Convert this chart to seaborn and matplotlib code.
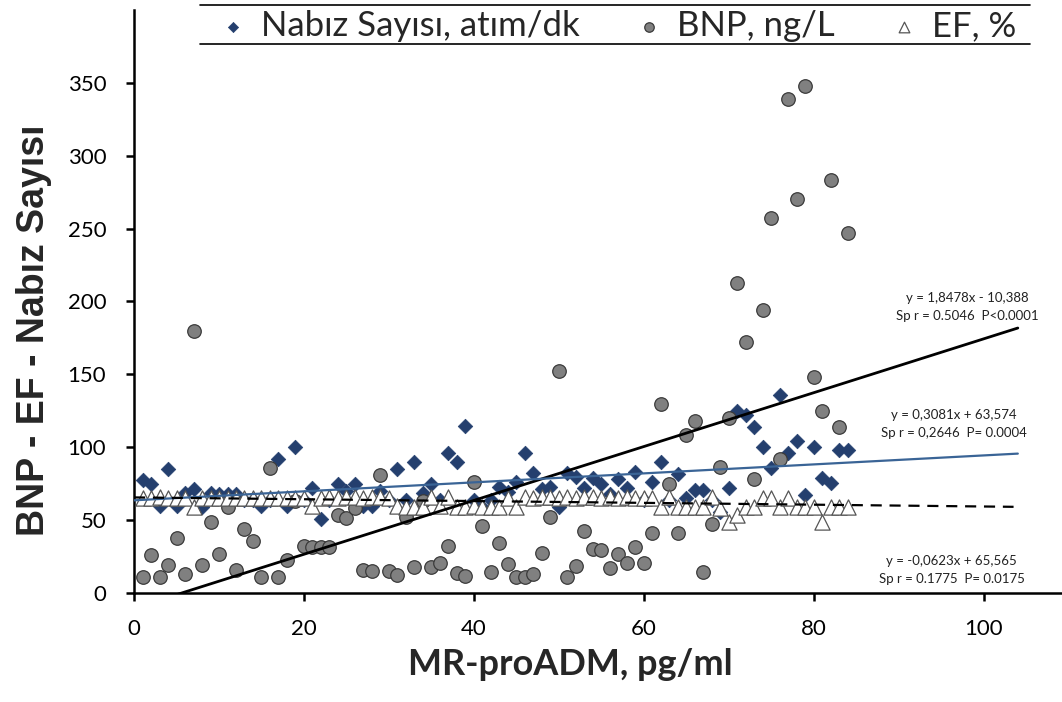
import numpy as np
import pandas as pd
import seaborn as sns
import matplotlib.pyplot as plt
from matplotlib.lines import Line2D

# MR-proADM sira numarasi (1..84)
hasta = list(range(1, 85))

nabiz = [77.6, 74.6, 59.7, 85, 59.7, 68.8, 71.4, 59.3, 68.4, 68,
         68, 68, 64, 64, 60, 64, 92, 60, 100, 64,
         72.3, 50.8, 64, 74.6, 70, 74.6, 60, 60, 70, 64,
         85, 64, 89.7, 68.8, 74.6, 64, 96.3, 89.7, 114.6, 64,
         58.8, 64, 73, 69.5, 76.4, 96.3, 82.6, 71, 73, 58.8,
         82.2, 79.8, 71.8, 79, 74.6, 68, 78, 71.8, 82.8, 64,
         76, 90, 64, 81.5, 65, 70.7, 70.7, 64, 55.8, 71.8,
         125, 122, 114, 100, 86, 136, 96.3, 104, 67.3, 100,
         78.7, 75.3, 98.1, 98.1]

bnp = [11, 26, 11, 19, 37.5, 13, 180, 19, 49, 27,
       59, 16, 44, 36, 11, 86, 11, 22.6, 63, 32.5,
       31.4, 31.4, 31.4, 53.5, 51.3, 58, 15.8, 15.3, 81, 15.3,
       12.4, 52.4, 18.1, 63, 18.1, 20.8, 32.5, 13.5, 11.7, 76.4,
       46, 14.6, 34.5, 19.9, 11.2, 11.2, 13, 27.2, 52, 152,
       10.8, 18.5, 42.6, 30, 29.5, 17, 26.8, 20.8, 31.8, 20.8,
       41, 129.5, 74.8, 41, 108.4, 118.3, 14.6, 47.4, 86.3, 120,
       213, 172, 78, 194, 257, 91.8, 339, 270, 348, 148,
       125, 283, 113.7, 247]

ef = [65, 65, 66, 65, 65, 65, 59, 65, 65, 65,
      65, 65, 65, 65, 65, 65, 65, 65, 65, 65,
      60, 65, 66, 65, 66, 66, 65, 66, 66, 65,
      60, 59, 59, 59, 66, 60, 66, 59, 59, 60,
      59, 59, 59, 65, 59, 66, 65, 66, 66, 65,
      66, 65, 66, 66, 65, 66, 65, 66, 65, 65,
      65, 59, 66, 59, 59, 59, 59, 66, 58, 49,
      53.5, 59, 59, 65, 65, 59, 65, 59, 59, 59,
      49, 59, 59, 59]

# trend cizgileri (grafikteki denklemler)
egim = {'nabiz': 0.3081, 'bnp': 1.8478, 'ef': -0.0623}
kesim = {'nabiz': 63.574, 'bnp': -10.388, 'ef': 65.565}
etiketler = {'nabiz': 'y = 0,3081x + 63,574\nSp r = 0,2646  P= 0.0004',
             'bnp': 'y = 1,8478x - 10,388\nSp r = 0.5046  P<0.0001',
             'ef': 'y = -0,0623x + 65,565\nSp r = 0.1775  P= 0.0175'}

df = pd.DataFrame({'x': hasta, 'nabiz': nabiz, 'bnp': bnp, 'ef': ef})

sns.set_style('ticks')
plt.rcParams['font.family'] = ['Lato', 'DejaVu Sans']

fig = plt.figure(figsize=(10.62, 7.02), dpi=100)
ax = fig.add_axes([0.1262, 0.1553, 0.8738, 0.8305])

sns.scatterplot(data=df, x='x', y='nabiz', marker='D', s=55, color='#243F6E',
                edgecolor='#243F6E', linewidth=0.5, ax=ax, zorder=3,
                label='Nabız Sayısı, atım/dk')
sns.scatterplot(data=df, x='x', y='bnp', marker='o', s=95, color='#808080',
                edgecolor='#3a3a3a', linewidth=0.9, ax=ax, zorder=3,
                label='BNP, ng/L')
sns.scatterplot(data=df, x='x', y='ef', marker='^', s=120, color='white',
                edgecolor='#555555', linewidth=0.9, ax=ax, zorder=4,
                label='EF, %')

xx = np.array([0, 104])
ax.plot(xx, egim['bnp'] * xx + kesim['bnp'], color='black', lw=2, zorder=5)
ax.plot(xx, egim['nabiz'] * xx + kesim['nabiz'], color='#3A6496', lw=1.6, zorder=5)
ax.plot(np.array([0, 103.5]), egim['ef'] * np.array([0, 103.5]) + kesim['ef'],
        color='black', lw=1.6, ls=(0, (5, 3.5)), zorder=5)

ax.text(98, 196, etiketler['bnp'], ha='center', va='center', fontsize=9.5,
        linespacing=1.6, color='#222222')
ax.text(96.5, 116, etiketler['nabiz'], ha='center', va='center', fontsize=9.5,
        linespacing=1.6, color='#222222')
ax.text(96.2, 16, etiketler['ef'], ha='center', va='center', fontsize=9.5,
        linespacing=1.6, color='#222222')

ax.set_xlim(0, 109.2)
ax.set_ylim(0, 400)
ax.set_xticks([0, 20, 40, 60, 80, 100])
ax.set_yticks(range(0, 351, 50))
ax.tick_params(axis='both', labelsize=16, length=6, width=1.8, colors='black')
ax.tick_params(axis='x', pad=13)
ax.tick_params(axis='y', pad=14)
sns.despine(ax=ax)
for s in ['left', 'bottom']:
    ax.spines[s].set_linewidth(1.8)
    ax.spines[s].set_color('black')

ax.set_xlabel('MR-proADM, pg/ml', fontsize=26, fontweight='bold')
ax.xaxis.set_label_coords(0.47, -0.094)
ax.set_ylabel('BNP - EF - Nabız Sayısı', fontsize=27, fontweight='bold',
              family=['Liberation Sans', 'DejaVu Sans'])
ax.yaxis.set_label_coords(-0.088, 0.451)

h, l = ax.get_legend_handles_labels()
ax.get_legend().remove()
fig.legend(h, l, loc='center', bbox_to_anchor=(0.58, 0.963), ncol=3,
           frameon=False, fontsize=25, handlelength=1.0, handletextpad=0.3,
           columnspacing=1.5, markerscale=0.7, borderaxespad=0)

fig.add_artist(Line2D([0.188, 0.970], [0.993, 0.993], color='black', lw=1.2))
fig.add_artist(Line2D([0.188, 0.970], [0.937, 0.937], color='black', lw=1.2))

fig.savefig('out.png', dpi=100)
